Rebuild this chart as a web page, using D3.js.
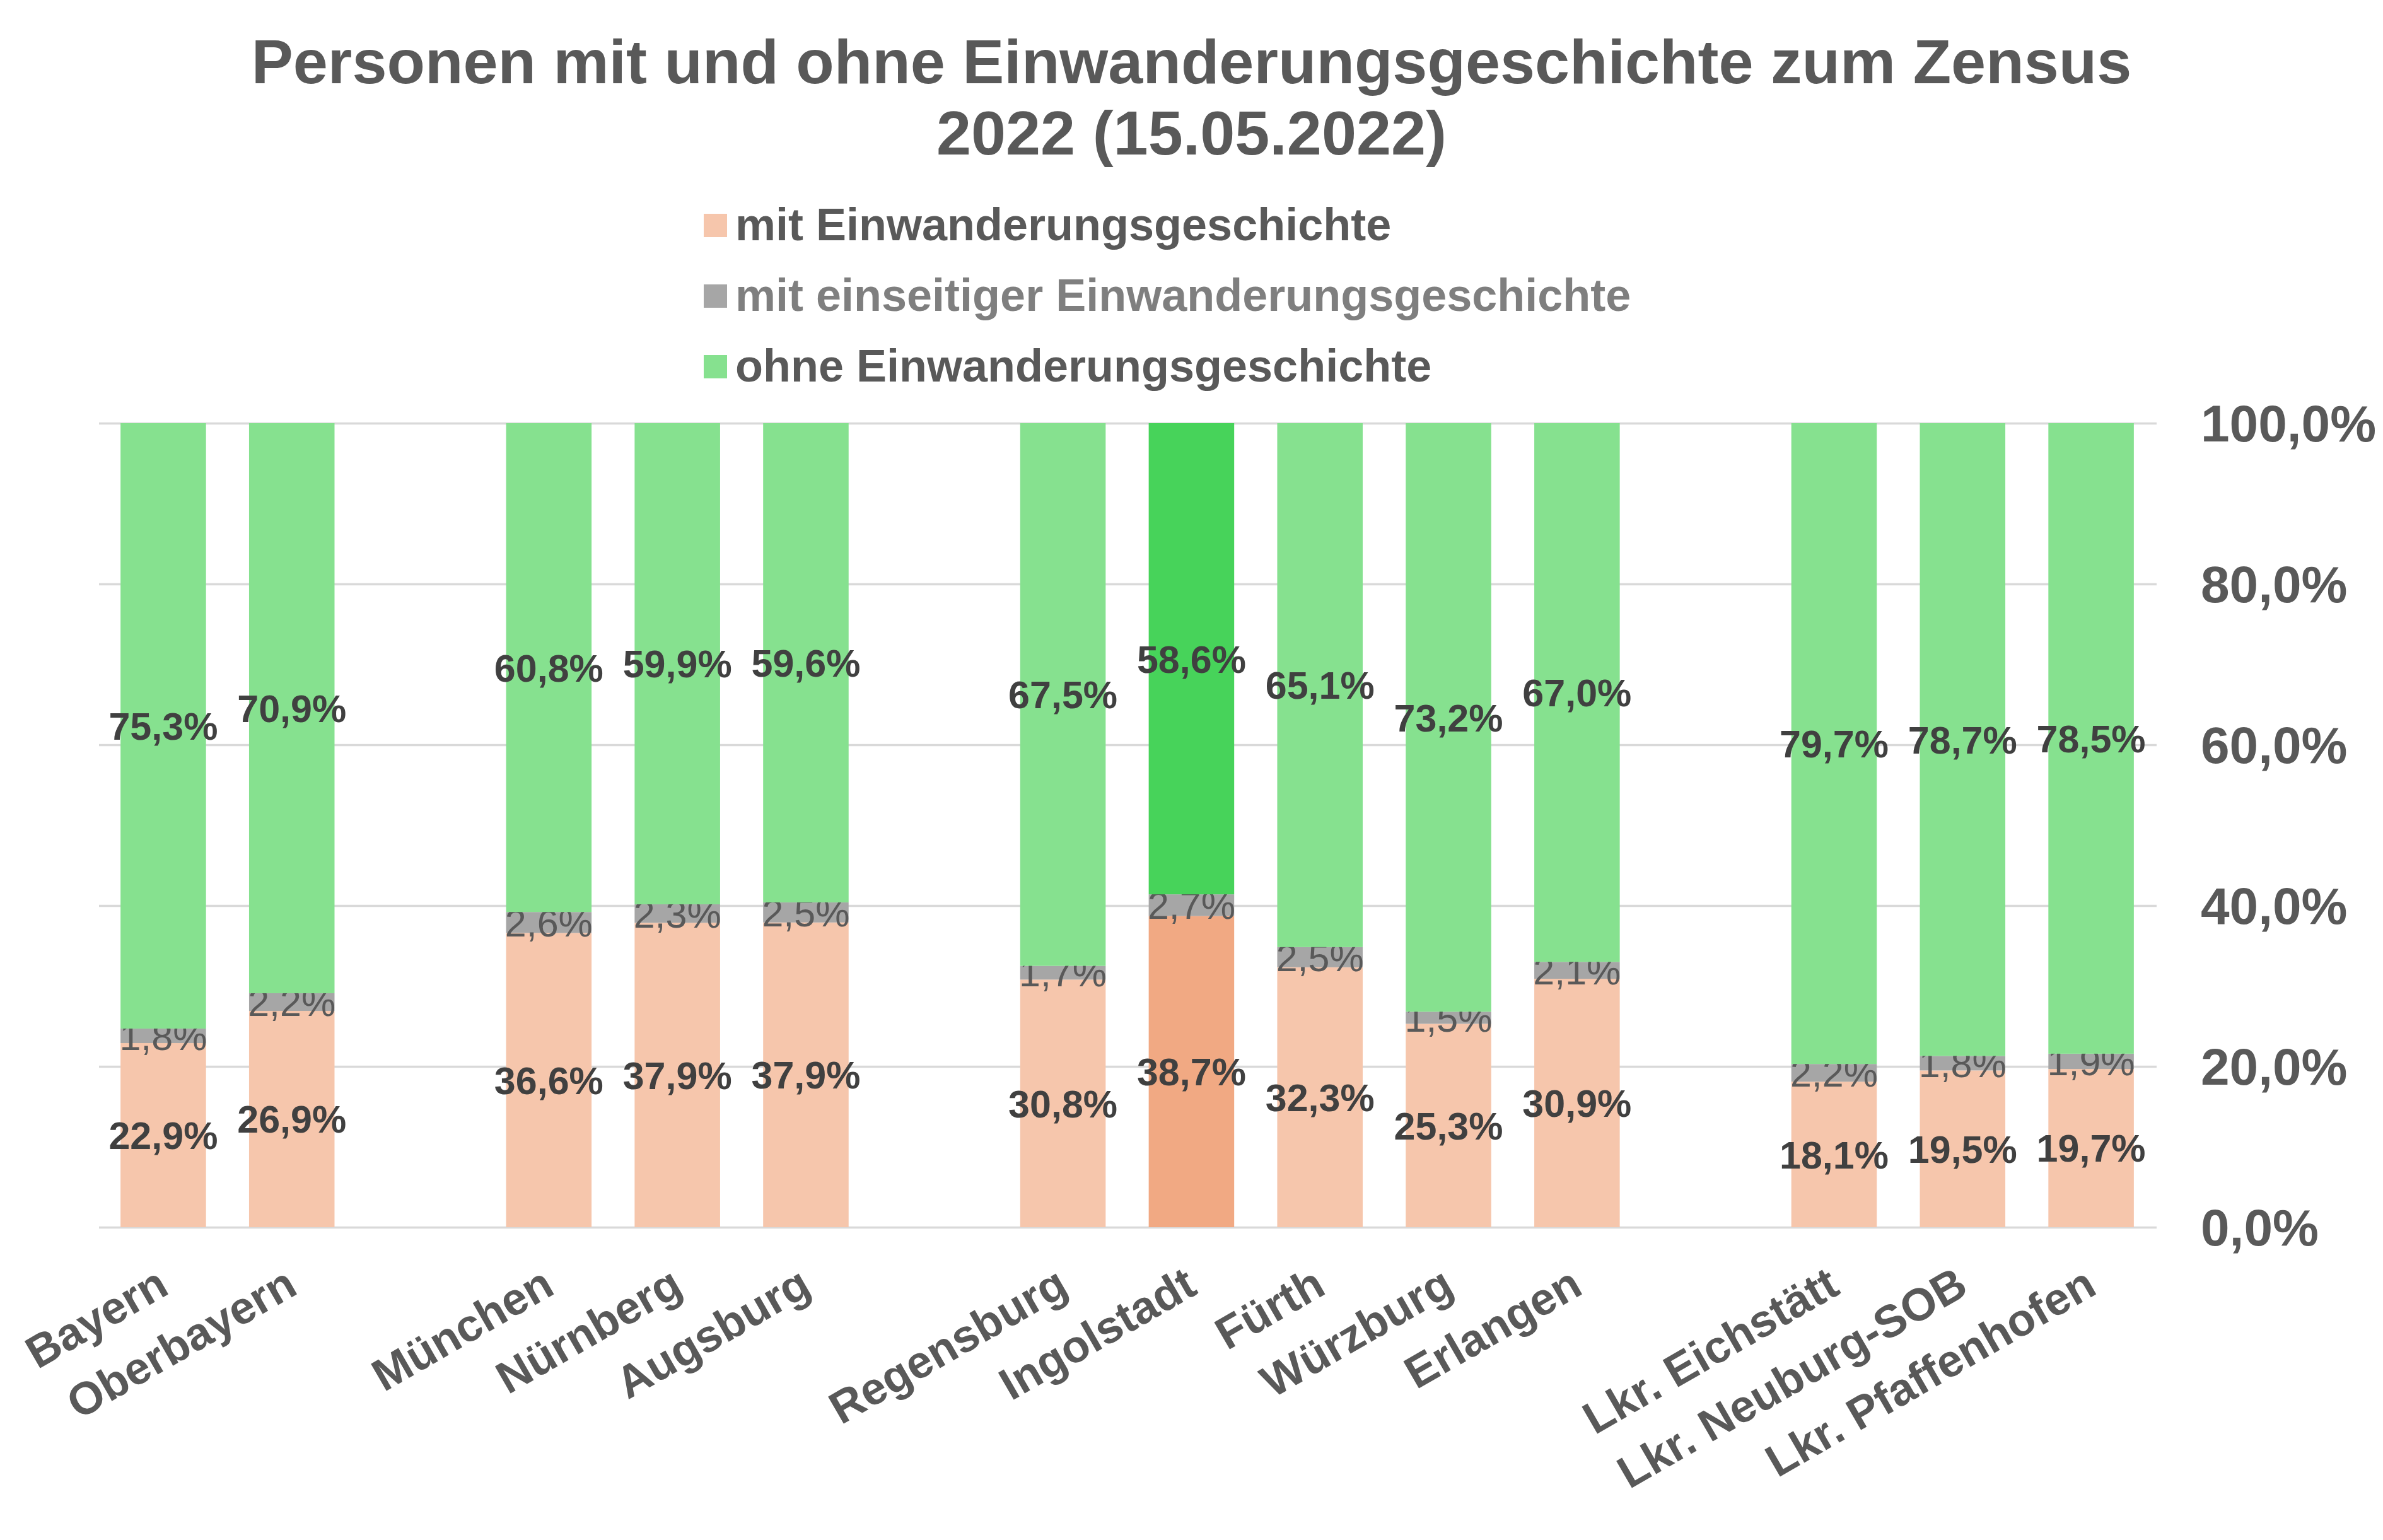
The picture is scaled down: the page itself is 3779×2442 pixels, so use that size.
<!DOCTYPE html>
<html>
<head>
<meta charset="utf-8">
<script src="https://cdn.jsdelivr.net/npm/d3@7"></script>
<style>
  body { margin: 0; background: #fff; }
  text { font-family: Arial, "Liberation Sans", sans-serif; }
</style>
</head>
<body>
<script>
// categories, "" = empty slot between groups
var categories = ["Bayern", "Oberbayern", "", "München", "Nürnberg", "Augsburg", "",
  "Regensburg", "Ingolstadt", "Fürth", "Würzburg", "Erlangen", "",
  "Lkr. Eichstätt", "Lkr. Neuburg-SOB", "Lkr. Pfaffenhofen"];

var mitEW = [22.9, 26.9, null, 36.6, 37.9, 37.9, null, 30.8, 38.7, 32.3, 25.3, 30.9, null, 18.1, 19.5, 19.7];
var einseitig = [1.8, 2.2, null, 2.6, 2.3, 2.5, null, 1.7, 2.7, 2.5, 1.5, 2.1, null, 2.2, 1.8, 1.9];
var ohneEW = [75.3, 70.9, null, 60.8, 59.9, 59.6, null, 67.5, 58.6, 65.1, 73.2, 67.0, null, 79.7, 78.7, 78.5];

var seriesNames = ["mit Einwanderungsgeschichte", "mit einseitiger Einwanderungsgeschichte", "ohne Einwanderungsgeschichte"];
var yTicks = [0, 0.2, 0.4, 0.6, 0.8, 1.0];
var highlight = "Ingolstadt";

var W = 3779, H = 2442;
var margin = { top: 671, right: 361, bottom: 496, left: 157 },
  width = W - margin.left - margin.right,
  height = H - margin.top - margin.bottom;

var colors = ["#F6C6AC", "#A6A6A6", "#86E18F"];
var hiColors = ["#F1A983", "#A6A6A6", "#47D35A"];
var labelColors = ["#404040", "#595959", "#404040"];
var labelWeights = ["bold", "normal", "bold"];

var de = d3.formatLocale({ decimal: ",", thousands: ".", grouping: [3], currency: ["", " €"] });
var fmtVal = function (v) { return de.format(".1f")(v) + "%"; };
var fmtPct = de.format(".1%");

var keys = ["mit", "einseitig", "ohne"];
var rows = [];
categories.forEach(function (c, i) {
  if (c === "") return; // gap slot, no bar
  rows.push({ idx: i, name: c, mit: mitEW[i], einseitig: einseitig[i], ohne: ohneEW[i] });
});

// 100% stacked like the original chart
var stacked = d3.stack().keys(keys).offset(d3.stackOffsetExpand)(rows);

var svg = d3.select("body").append("svg")
  .attr("width", W)
  .attr("height", H);

var x = d3.scaleBand()
  .domain(d3.range(categories.length))
  .range([0, width])
  .paddingInner(0.335)
  .paddingOuter(0.1675);

var y = d3.scaleLinear()
  .domain([0, 1])
  .range([height, 0]);

var g = svg.append("g")
  .attr("transform", "translate(" + margin.left + "," + margin.top + ")");

// gridlines
g.append("g")
  .attr("class", "grid")
  .call(d3.axisLeft(y).tickValues(yTicks).tickSize(-width - 2).tickFormat(""))
  .call(function (s) { s.select(".domain").remove(); })
  .selectAll("line")
  .attr("stroke", "#D9D9D9")
  .attr("stroke-width", 3.5);

// bars
var layers = g.selectAll(".layer").data(stacked).enter()
  .append("g")
  .attr("class", "layer");

layers.selectAll("rect").data(function (d) { return d.map(function (p) { p.key = d.key; p.k = d.index; return p; }); })
  .enter().append("rect")
  .attr("x", function (d) { return x(d.data.idx); })
  .attr("width", x.bandwidth())
  .attr("y", function (d) { return y(d[1]); })
  .attr("height", function (d) { return y(d[0]) - y(d[1]); })
  .attr("fill", function (d) { return d.data.name === highlight ? hiColors[d.k] : colors[d.k]; });

// value labels
layers.selectAll("text").data(function (d) { return d; })
  .enter().append("text")
  .attr("x", function (d) { return x(d.data.idx) + x.bandwidth() / 2; })
  .attr("y", function (d) { return y((d[0] + d[1]) / 2); })
  .attr("dy", "0.36em")
  .attr("text-anchor", "middle")
  .style("font-size", "61px")
  .style("font-weight", function (d) { return labelWeights[d.k]; })
  .style("fill", function (d) { return labelColors[d.k]; })
  .text(function (d) { return fmtVal(d.data[d.key]); });

// y axis on the right
var yAxisX = 3490 - margin.left;
var yAxis = g.append("g")
  .attr("transform", "translate(" + yAxisX + ",0)")
  .call(d3.axisRight(y).tickValues(yTicks).tickSize(0).tickPadding(0).tickFormat(fmtPct));
yAxis.select(".domain").remove();
yAxis.selectAll("text")
  .attr("dy", "0.35em")
  .style("font-size", "82px")
  .style("font-weight", "bold")
  .style("fill", "#595959");

// x axis labels
var xAxis = g.append("g")
  .attr("transform", "translate(0," + height + ")")
  .call(d3.axisBottom(x).tickSize(0).tickFormat(function (i) { return categories[i]; }));
xAxis.select(".domain").remove();
xAxis.selectAll("text")
  .attr("x", 0)
  .attr("y", 0)
  .attr("dy", 0)
  .attr("text-anchor", "end")
  .attr("transform", "translate(12,104) rotate(-30)")
  .style("font-size", "72px")
  .style("font-weight", "bold")
  .style("fill", "#595959");

// title
svg.append("text")
  .attr("x", W / 2)
  .attr("y", 132)
  .attr("text-anchor", "middle")
  .style("font-size", "99px")
  .style("font-weight", "bold")
  .style("fill", "#595959")
  .text("Personen mit und ohne Einwanderungsgeschichte zum Zensus");
svg.append("text")
  .attr("x", W / 2)
  .attr("y", 245)
  .attr("text-anchor", "middle")
  .style("font-size", "99px")
  .style("font-weight", "bold")
  .style("fill", "#595959")
  .text("2022 (15.05.2022)");

// legend
var legendColors = ["#595959", "#7F7F7F", "#595959"];
var legend = svg.selectAll(".legend").data(seriesNames).enter()
  .append("g")
  .attr("class", "legend")
  .attr("transform", function (d, i) { return "translate(1116," + (381 + i * 112) + ")"; });

legend.append("rect")
  .attr("x", 0)
  .attr("y", -42)
  .attr("width", 37)
  .attr("height", 37)
  .attr("fill", function (d, i) { return colors[i]; });

legend.append("text")
  .attr("x", 50)
  .attr("y", 0)
  .style("font-size", "72px")
  .style("font-weight", "bold")
  .style("fill", function (d, i) { return legendColors[i]; })
  .text(function (d) { return d; });
</script>
</body>
</html>
